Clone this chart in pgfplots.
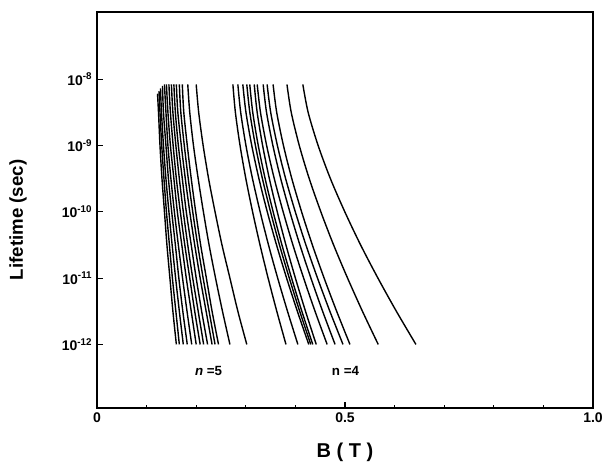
\documentclass[border=0pt]{standalone}
\usepackage{pgfplots}
\pgfplotsset{compat=1.18}
\usepackage{fontspec}
\setmainfont{Liberation Sans}
\begin{document}
\begin{tikzpicture}
\useasboundingbox (-72.75pt,-43.5pt) rectangle (380.25pt,306pt);
\begin{axis}[
  at={(0pt,0pt)}, anchor=south west,
  scale only axis, width=372pt, height=297pt,
  xmin=0, xmax=1, ymode=log, ymin=1.1e-13, ymax=1.03e-7,
  axis line style={line width=1.2pt},
  xtick={0,0.5,1}, xticklabels={\textbf{0},\textbf{0.5},\textbf{1.0}},
  minor xtick={0.1,0.2,0.3,0.4,0.6,0.7,0.8,0.9},
  ytick={1e-12,1e-11,1e-10,1e-9,1e-8},
  yticklabels={\textbf{10\textsuperscript{-12}},\textbf{10\textsuperscript{-11}},\textbf{10\textsuperscript{-10}},\textbf{10\textsuperscript{-9}},\textbf{10\textsuperscript{-8}}},
  yminorticks=false,
  tick align=inside, xtick pos=bottom, ytick pos=left,
  major tick length=4.5pt, minor tick length=2.5pt,
  tick style={line width=0.8pt, black},
  ticklabel style={font=\fontsize{10.5}{12}\selectfont\bfseries},
  xlabel={B ( T )}, ylabel={Lifetime (sec)},
  xlabel style={font=\fontsize{15}{18}\selectfont\bfseries, at={(axis description cs:0.5,-0.111)}, anchor=center},
  ylabel style={font=\fontsize{14}{17}\selectfont\bfseries, at={(axis description cs:-0.159,0.475)}, anchor=center},
  cycle list={{black, solid, mark=none}},
  every axis plot post/.append style={line width=1.05pt, smooth},
  clip=false,
]
% n = 5 group
\addplot coordinates {(0.122,6.03e-9)(0.124,3.16e-9)(0.127,1e-9)(0.131,3.16e-10)(0.136,1e-10)(0.141,3.16e-11)(0.147,1e-11)(0.153,3.16e-12)(0.160,1e-12)};
\addplot coordinates {(0.125,6.6e-9)(0.127,3.16e-9)(0.1305,1e-9)(0.135,3.16e-10)(0.140,1e-10)(0.146,3.16e-11)(0.152,1e-11)(0.159,3.16e-12)(0.166,1e-12)};
\addplot coordinates {(0.128,7.24e-9)(0.130,3.16e-9)(0.134,1e-9)(0.139,3.16e-10)(0.145,1e-10)(0.1515,3.16e-11)(0.1585,1e-11)(0.166,3.16e-12)(0.174,1e-12)};
\addplot coordinates {(0.132,7.94e-9)(0.134,3.16e-9)(0.139,1e-9)(0.144,3.16e-10)(0.1506,1e-10)(0.158,3.16e-11)(0.165,1e-11)(0.173,3.16e-12)(0.182,1e-12)};
\addplot coordinates {(0.136,8.32e-9)(0.139,3.16e-9)(0.143,1e-9)(0.149,3.16e-10)(0.156,1e-10)(0.164,3.16e-11)(0.1725,1e-11)(0.1815,3.16e-12)(0.191,1e-12)};
\addplot coordinates {(0.140,8.32e-9)(0.143,3.16e-9)(0.148,1e-9)(0.155,3.16e-10)(0.162,1e-10)(0.171,3.16e-11)(0.180,1e-11)(0.190,3.16e-12)(0.200,1e-12)};
\addplot coordinates {(0.145,8.32e-9)(0.148,3.16e-9)(0.1535,1e-9)(0.160,3.16e-10)(0.168,1e-10)(0.177,3.16e-11)(0.187,1e-11)(0.197,3.16e-12)(0.208,1e-12)};
\addplot coordinates {(0.150,8.32e-9)(0.153,3.16e-9)(0.159,1e-9)(0.166,3.16e-10)(0.174,1e-10)(0.183,3.16e-11)(0.193,1e-11)(0.204,3.16e-12)(0.215,1e-12)};
\addplot coordinates {(0.155,8.32e-9)(0.158,3.16e-9)(0.164,1e-9)(0.172,3.16e-10)(0.180,1e-10)(0.190,3.16e-11)(0.200,1e-11)(0.211,3.16e-12)(0.223,1e-12)};
\addplot coordinates {(0.160,8.32e-9)(0.163,3.16e-9)(0.170,1e-9)(0.178,3.16e-10)(0.187,1e-10)(0.197,3.16e-11)(0.208,1e-11)(0.220,3.16e-12)(0.232,1e-12)};
\addplot coordinates {(0.166,8.32e-9)(0.169,3.16e-9)(0.176,1e-9)(0.184,3.16e-10)(0.193,1e-10)(0.203,3.16e-11)(0.214,1e-11)(0.226,3.16e-12)(0.238,1e-12)};
\addplot coordinates {(0.172,8.32e-9)(0.175,3.16e-9)(0.182,1e-9)(0.190,3.16e-10)(0.199,1e-10)(0.209,3.16e-11)(0.2205,1e-11)(0.232,3.16e-12)(0.245,1e-12)};
\addplot coordinates {(0.183,8.32e-9)(0.187,3.16e-9)(0.1945,1e-9)(0.204,3.16e-10)(0.2145,1e-10)(0.226,3.16e-11)(0.239,1e-11)(0.253,3.16e-12)(0.268,1e-12)};
\addplot coordinates {(0.200,8.32e-9)(0.205,3.16e-9)(0.214,1e-9)(0.225,3.16e-10)(0.238,1e-10)(0.252,3.16e-11)(0.268,1e-11)(0.284,3.16e-12)(0.302,1e-12)};
% n = 4 group
\addplot coordinates {(0.274,8.32e-9)(0.279,3.16e-9)(0.2884,1e-9)(0.3001,3.16e-10)(0.3137,1e-10)(0.3287,3.16e-11)(0.345,1e-11)(0.3625,3.16e-12)(0.381,1e-12)};
\addplot coordinates {(0.284,8.32e-9)(0.2897,3.16e-9)(0.3003,1e-9)(0.3135,3.16e-10)(0.3289,1e-10)(0.3458,3.16e-11)(0.3643,1e-11)(0.3841,3.16e-12)(0.405,1e-12)};
\addplot coordinates {(0.294,8.32e-9)(0.3003,3.16e-9)(0.312,1e-9)(0.3265,3.16e-10)(0.3433,1e-10)(0.362,3.16e-11)(0.3823,1e-11)(0.404,3.16e-12)(0.427,1e-12)};
\addplot coordinates {(0.302,8.32e-9)(0.3081,3.16e-9)(0.3194,1e-9)(0.3335,3.16e-10)(0.3499,1e-10)(0.3679,3.16e-11)(0.3877,1e-11)(0.4087,3.16e-12)(0.431,1e-12)};
\addplot coordinates {(0.308,8.32e-9)(0.314,3.16e-9)(0.3251,1e-9)(0.339,3.16e-10)(0.3551,1e-10)(0.3729,3.16e-11)(0.3923,1e-11)(0.413,3.16e-12)(0.435,1e-12)};
\addplot coordinates {(0.317,8.32e-9)(0.3229,3.16e-9)(0.3339,1e-9)(0.3475,3.16e-10)(0.3634,1e-10)(0.3809,3.16e-11)(0.40,1e-11)(0.4204,3.16e-12)(0.442,1e-12)};
\addplot coordinates {(0.323,8.32e-9)(0.3296,3.16e-9)(0.342,1e-9)(0.3574,3.16e-10)(0.3753,1e-10)(0.395,3.16e-11)(0.4166,1e-11)(0.4396,3.16e-12)(0.464,1e-12)};
\addplot coordinates {(0.335,8.32e-9)(0.3418,3.16e-9)(0.3546,1e-9)(0.3704,3.16e-10)(0.3888,1e-10)(0.4091,3.16e-11)(0.4313,1e-11)(0.4549,3.16e-12)(0.480,1e-12)};
\addplot coordinates {(0.343,8.32e-9)(0.3502,3.16e-9)(0.3637,1e-9)(0.3803,3.16e-10)(0.3998,1e-10)(0.4212,3.16e-11)(0.4446,1e-11)(0.4695,3.16e-12)(0.496,1e-12)};
\addplot coordinates {(0.355,8.32e-9)(0.3623,3.16e-9)(0.3759,1e-9)(0.3928,3.16e-10)(0.4125,1e-10)(0.4342,3.16e-11)(0.4579,1e-11)(0.4832,3.16e-12)(0.510,1e-12)};
\addplot coordinates {(0.383,8.32e-9)(0.3916,3.16e-9)(0.4078,1e-9)(0.4279,3.16e-10)(0.4513,1e-10)(0.477,3.16e-11)(0.5052,1e-11)(0.5352,3.16e-12)(0.567,1e-12)};
\addplot coordinates {(0.415,8.32e-9)(0.4257,3.16e-9)(0.4458,1e-9)(0.4706,3.16e-10)(0.4996,1e-10)(0.5315,3.16e-11)(0.5664,1e-11)(0.6036,3.16e-12)(0.643,1e-12)};
\node[font=\fontsize{10}{12}\selectfont\bfseries] at (axis cs:0.225,3.98e-13) {{\itshape n} =5};
\node[font=\fontsize{10}{12}\selectfont\bfseries] at (axis cs:0.501,3.98e-13) {n =4};
\end{axis}
\end{tikzpicture}
\end{document}
